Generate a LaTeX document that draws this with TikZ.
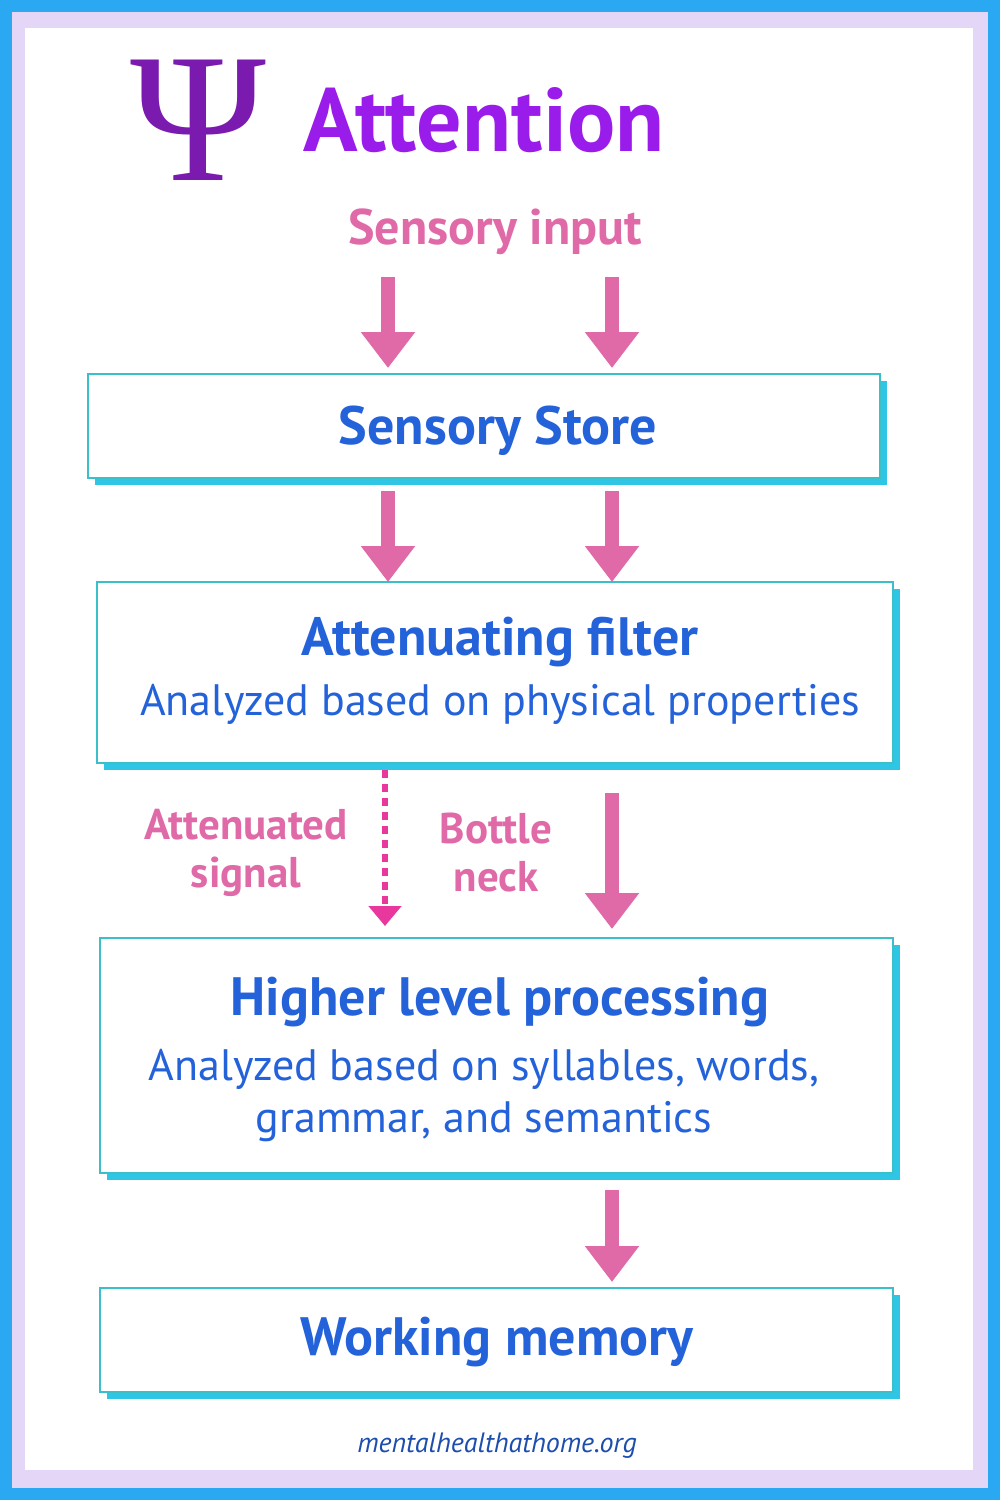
\documentclass[tikz,border=0pt]{standalone}
\usepackage{fontspec}
\setmainfont{PT Sans}
\newfontfamily\psifont{Liberation Serif}
\usetikzlibrary{arrows.meta}
\definecolor{frameblue}{HTML}{2BA8F2}
\definecolor{lav}{HTML}{E3D6F6}
\definecolor{pinkc}{HTML}{E06AA8}
\definecolor{magc}{HTML}{E8389E}
\definecolor{titleblue}{HTML}{2462DA}
\definecolor{purp}{HTML}{9A1CEB}
\definecolor{psic}{HTML}{7A1AAE}
\definecolor{cyanc}{HTML}{2EC6E4}
\definecolor{edgec}{HTML}{3BBFC8}
\begin{document}
\begin{tikzpicture}[x=0.5pt,y=-0.5pt,
  box/.style={draw=edgec,line width=0.6pt,fill=white},
  arr/.style={draw=pinkc,line width=7pt,-{Triangle[length=18pt,width=26pt]}},
  ttl/.style={text=titleblue,font=\bfseries\fontsize{27}{30}\selectfont},
  sub/.style={text=titleblue,font=\fontsize{22}{26}\selectfont,align=center},
  lbl/.style={text=pinkc,font=\bfseries\fontsize{21.5}{24}\selectfont,align=center}]
\useasboundingbox (0,0) rectangle (1000,1500);
\fill[frameblue] (0,0) rectangle (1000,1500);
\fill[lav] (12,12) rectangle (988,1488);
\fill[white] (25,28) rectangle (973,1470);
% title
\node[text=psic,font=\psifont\fontsize{92}{92}\selectfont] (psi) at (198,120) {Ψ};
\node[anchor=west,text=purp,font=\bfseries\fontsize{45}{50}\selectfont] (title) at (296,120) {Attention};
\node[lbl,font=\bfseries\fontsize{25}{28}\selectfont] (input) at (495,232) {Sensory input};
% boxes with shadows
\newcommand{\shbox}[5]{\fill[cyanc] (#1+7,#2+7) rectangle (#3+7,#4+7);
  \draw[box] (#1,#2) rectangle (#3,#4); \coordinate (#5) at (#1,#2);}
\shbox{88}{374}{880}{478}{b1}
\shbox{97}{582}{893}{763}{b2}
\shbox{100}{938}{893}{1173}{b3}
\shbox{100}{1288}{893}{1392}{b4}
\node[ttl] (store) at (498,431) {Sensory Store};
\node[ttl] (filt) at (500,642) {Attenuating filter};
\node[sub] (filtsub) at (500,704) {Analyzed based on physical properties};
\node[ttl] (hlp) at (500,1002) {Higher level processing};
\node[sub] (hlpsub) at (484,1096) {Analyzed based on syllables, words,\\grammar, and semantics};
\node[ttl] (wm) at (497,1342) {Working memory};
\node[lbl] (att) at (246,853) {Attenuated\\signal};
\node[lbl] (bn) at (496,853) {Bottle\\neck};
\node[text=titleblue!80!black,font=\itshape\fontsize{14}{16}\selectfont] (url) at (497,1446) {mentalhealthathome.org};
% arrows
\coordinate (a1s) at (388,277); \coordinate (a1e) at (388,368);
\coordinate (a2s) at (612,277); \coordinate (a2e) at (612,368);
\coordinate (a3s) at (388,491); \coordinate (a3e) at (388,582);
\coordinate (a4s) at (612,491); \coordinate (a4e) at (612,582);
\coordinate (a5s) at (385,770); \coordinate (a5e) at (385,926);
\coordinate (a6s) at (612,793); \coordinate (a6e) at (612,929);
\coordinate (a7s) at (612,1190); \coordinate (a7e) at (612,1282);
\draw[arr] (a1s) -- (a1e);
\draw[arr] (a2s) -- (a2e);
\draw[arr] (a3s) -- (a3e);
\draw[arr] (a4s) -- (a4e);
\draw[arr] (a6s) -- (a6e);
\draw[arr] (a7s) -- (a7e);
\draw[magc,line width=3pt,dash pattern=on 4pt off 3pt,-{Triangle[length=10pt,width=16pt]}] (a5s) -- (a5e);
\end{tikzpicture}
\end{document}
